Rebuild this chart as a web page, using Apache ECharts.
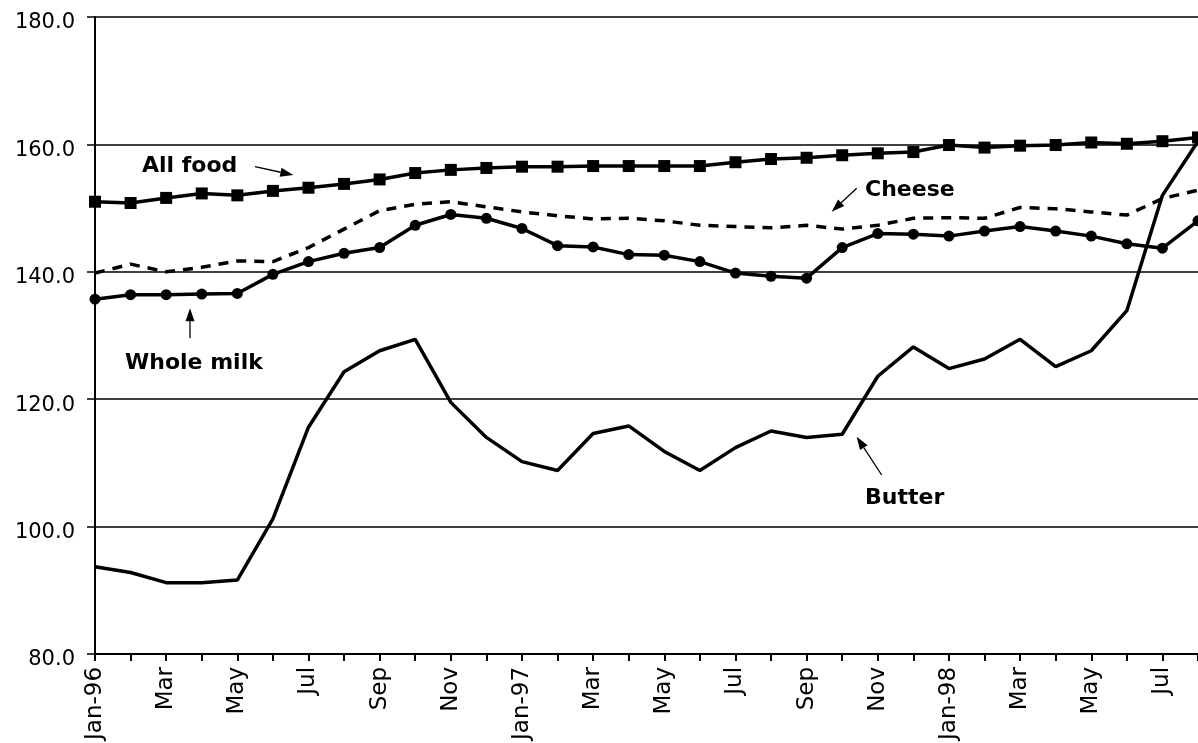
<!DOCTYPE html>
<html>
<head>
<meta charset="utf-8">
<script src="https://cdn.jsdelivr.net/npm/echarts@6/dist/echarts.min.js"></script>
<style>
  html, body { margin: 0; padding: 0; background: #fff; }
  #chart { width: 1198px; height: 743px; }
</style>
</head>
<body>
<div id="chart"></div>
<script>
// monthly index values, Jan-96 .. Aug-98
var months = [
    'Jan-96', 'Feb-96', 'Mar-96', 'Apr-96', 'May-96', 'Jun-96', 'Jul-96', 'Aug-96', 'Sep-96', 'Oct-96', 'Nov-96', 'Dec-96',
    'Jan-97', 'Feb-97', 'Mar-97', 'Apr-97', 'May-97', 'Jun-97', 'Jul-97', 'Aug-97', 'Sep-97', 'Oct-97', 'Nov-97', 'Dec-97',
    'Jan-98', 'Feb-98', 'Mar-98', 'Apr-98', 'May-98', 'Jun-98', 'Jul-98', 'Aug-98'
];
var allFood = [
    151.0, 150.8, 151.6, 152.3, 152.0, 152.7, 153.2, 153.8, 154.5, 155.5, 156.0, 156.3,
    156.5, 156.5, 156.6, 156.6, 156.6, 156.6, 157.2, 157.7, 157.9, 158.3, 158.6, 158.8,
    159.9, 159.5, 159.8, 159.9, 160.3, 160.1, 160.5, 161.1
];
var cheese = [
    139.8, 141.2, 140.0, 140.7, 141.7, 141.6, 143.8, 146.7, 149.6, 150.6, 151.0, 150.2,
    149.4, 148.8, 148.3, 148.4, 148.0, 147.3, 147.1, 146.9, 147.3, 146.7, 147.3, 148.4,
    148.5, 148.4, 150.1, 149.9, 149.4, 148.9, 151.5, 152.8
];
var wholeMilk = [
    135.7, 136.4, 136.4, 136.5, 136.6, 139.6, 141.6, 142.9, 143.8, 147.3, 149.0, 148.4,
    146.8, 144.1, 143.9, 142.7, 142.6, 141.6, 139.8, 139.3, 139.0, 143.8, 146.0, 145.9,
    145.6, 146.4, 147.1, 146.4, 145.6, 144.4, 143.7, 148.0
];
var butter = [
    93.7, 92.8, 91.2, 91.2, 91.6, 101.2, 115.6, 124.3, 127.6, 129.4, 119.5, 114.0,
    110.2, 108.8, 114.6, 115.8, 111.8, 108.8, 112.4, 115.0, 114.0, 114.5, 123.6, 128.2,
    124.8, 126.3, 129.4, 125.1, 127.6, 133.9, 152.0, 160.5
];

var labelFont = 'DejaVu Sans';

// arrow from (x1,y1) to the tip (x2,y2)
function arrow(x1, y1, x2, y2) {
    var dx = x2 - x1, dy = y2 - y1;
    var len = Math.sqrt(dx * dx + dy * dy);
    var ux = dx / len, uy = dy / len;
    var head = 13, half = 4.5;
    var bx = x2 - ux * head, by = y2 - uy * head;
    return [
        {
            type: 'line',
            shape: {x1: x1, y1: y1, x2: bx, y2: by},
            style: {stroke: '#000', lineWidth: 1.3}
        },
        {
            type: 'polygon',
            shape: {points: [[x2, y2], [bx - uy * half, by + ux * half], [bx + uy * half, by - ux * half]]},
            style: {fill: '#000'}
        }
    ];
}

function note(text, x, y) {
    return {
        type: 'text',
        x: x,
        y: y,
        style: {
            text: text,
            fill: '#000',
            font: 'bold 22px "DejaVu Sans"',
            textAlign: 'left',
            textVerticalAlign: 'middle'
        }
    };
}

var graphics = [
    note('All food', 142, 166.5),
    note('Cheese', 865, 190),
    note('Whole milk', 125, 363.5),
    note('Butter', 865, 498)
].concat(
    arrow(255, 166.7, 293.3, 175),
    arrow(856.7, 188.3, 831.7, 211.7),
    arrow(190, 338.3, 190, 308.3),
    arrow(881.7, 475, 856.7, 436.7)
);

var myChart = echarts.init(document.getElementById('chart'));

var option = {
    backgroundColor: '#fff',
    animation: false,
    grid: {
        left: 95,
        right: -7,
        top: 17,
        bottom: 88
    },
    xAxis: {
        type: 'category',
        boundaryGap: false,
        data: months,
        axisLine: {lineStyle: {color: '#000', width: 2}},
        axisTick: {
            interval: 0,
            length: 7,
            lineStyle: {color: '#000', width: 2}
        },
        axisLabel: {
            interval: 1,
            rotate: 90,
            margin: 13,
            color: '#000',
            fontFamily: labelFont,
            fontSize: 23,
            formatter: function (value) {
                return value.indexOf('Jan') === 0 ? value : value.slice(0, 3);
            }
        },
        splitLine: {show: false}
    },
    yAxis: {
        type: 'value',
        min: 80,
        max: 180,
        interval: 20,
        axisLine: {show: true, lineStyle: {color: '#000', width: 2}},
        axisTick: {show: true, length: 8, lineStyle: {color: '#000', width: 1.5}},
        axisLabel: {
            margin: 20,
            color: '#000',
            fontFamily: labelFont,
            fontSize: 21,
            verticalAlign: 'top',
            lineHeight: 12,
            formatter: function (v) { return v.toFixed(1); }
        },
        splitLine: {lineStyle: {color: '#000', width: 1.5}}
    },
    series: [
        {
            name: 'All food',
            type: 'line',
            data: allFood,
            symbol: 'rect',
            symbolSize: 12,
            itemStyle: {color: '#000'},
            lineStyle: {color: '#000', width: 3.5}
        },
        {
            name: 'Cheese',
            type: 'line',
            data: cheese,
            symbol: 'none',
            lineStyle: {color: '#000', width: 3.5, type: [10, 8]}
        },
        {
            name: 'Whole milk',
            type: 'line',
            data: wholeMilk,
            symbol: 'circle',
            symbolSize: 11,
            itemStyle: {color: '#000'},
            lineStyle: {color: '#000', width: 3.5}
        },
        {
            name: 'Butter',
            type: 'line',
            data: butter,
            symbol: 'none',
            lineStyle: {color: '#000', width: 3.5}
        }
    ],
    graphic: graphics
};

myChart.setOption(option);
</script>
</body>
</html>
